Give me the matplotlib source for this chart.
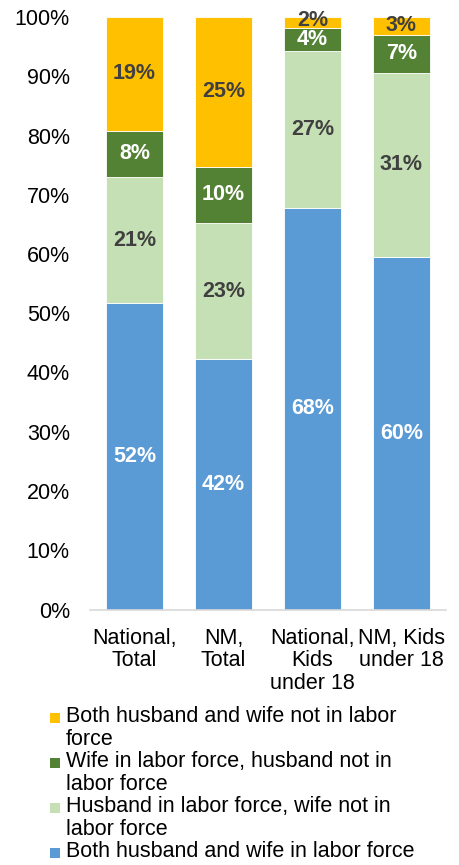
import matplotlib.pyplot as plt
from matplotlib.patches import Rectangle

plt.rcParams['font.family'] = ['Liberation Sans', 'DejaVu Sans']

categories = ["National,\nTotal", "NM,\nTotal", "National,\nKids\nunder 18", "NM, Kids\nunder 18"]
series_names = ["Both husband and wife in labor force",
                "Husband in labor force, wife not in\nlabor force",
                "Wife in labor force, husband not in\nlabor force",
                "Both husband and wife not in labor\nforce"]
both_in = [51.7, 42.2, 67.8, 59.5]
husband_only = [21.3, 23.1, 26.5, 31.1]
wife_only = [7.8, 9.4, 3.9, 6.4]
neither = [19.2, 25.3, 1.8, 3.0]
labels = [["52%", "42%", "68%", "60%"],
          ["21%", "23%", "27%", "31%"],
          ["8%", "10%", "4%", "7%"],
          ["19%", "25%", "2%", "3%"]]

colors = ["#5B9BD5", "#C5E0B4", "#548235", "#FFC000"]
text_colors = ["white", "#404040", "white", "#404040"]
series = [both_in, husband_only, wife_only, neither]

W, H = 459, 865
fig = plt.figure(figsize=(W / 100, H / 100), dpi=100)
ax = fig.add_axes([90 / W, 1 - 609.5 / H, 356 / W, 592.5 / H])

x = range(len(categories))
bottom = [0] * len(categories)
for vals, col, tcol, labs in zip(series, colors, text_colors, labels):
    ax.bar(x, vals, width=0.63, bottom=bottom, color=col, edgecolor="white", linewidth=0.6)
    for i, v in enumerate(vals):
        ypos = bottom[i] + v / 2
        if labs[i] == "2%":
            ypos = bottom[i] + v / 2 + 0.3
        ax.text(i, ypos, labs[i], ha="center", va="center", color=tcol,
                fontsize=15.5, fontweight="bold")
    bottom = [b + v for b, v in zip(bottom, vals)]

ax.set_xlim(-0.5, 3.5)
ax.set_ylim(0, 100)
ax.set_yticks(range(0, 101, 10))
ax.set_yticklabels([f"{t}%" for t in range(0, 101, 10)], fontsize=15.5)
ax.set_xticks(list(x))
ax.set_xticklabels(categories, fontsize=15.5, linespacing=1.1)
ax.tick_params(axis="y", length=0, pad=14.5)
ax.tick_params(axis="x", length=0, pad=13)
for s in ["top", "right", "left"]:
    ax.spines[s].set_visible(False)
ax.spines["bottom"].set_color("#D9D9D9")
ax.spines["bottom"].set_linewidth(1.2)

# legend, top entry first (reverse of stacking order)
entry_y = [718, 763, 808, 853]
for yy, name, col in zip(entry_y, series_names[::-1], colors[::-1]):
    fig.patches.append(Rectangle((50 / W, 1 - (yy + 5) / H), 10 / W, 10 / H,
                                 transform=fig.transFigure, facecolor=col,
                                 edgecolor="none"))
    fig.text(66 / W, 1 - (yy - 12) / H, name, ha="left", va="top",
             fontsize=15.5, linespacing=1.1, color="black")

fig.savefig("out.png", dpi=100)
